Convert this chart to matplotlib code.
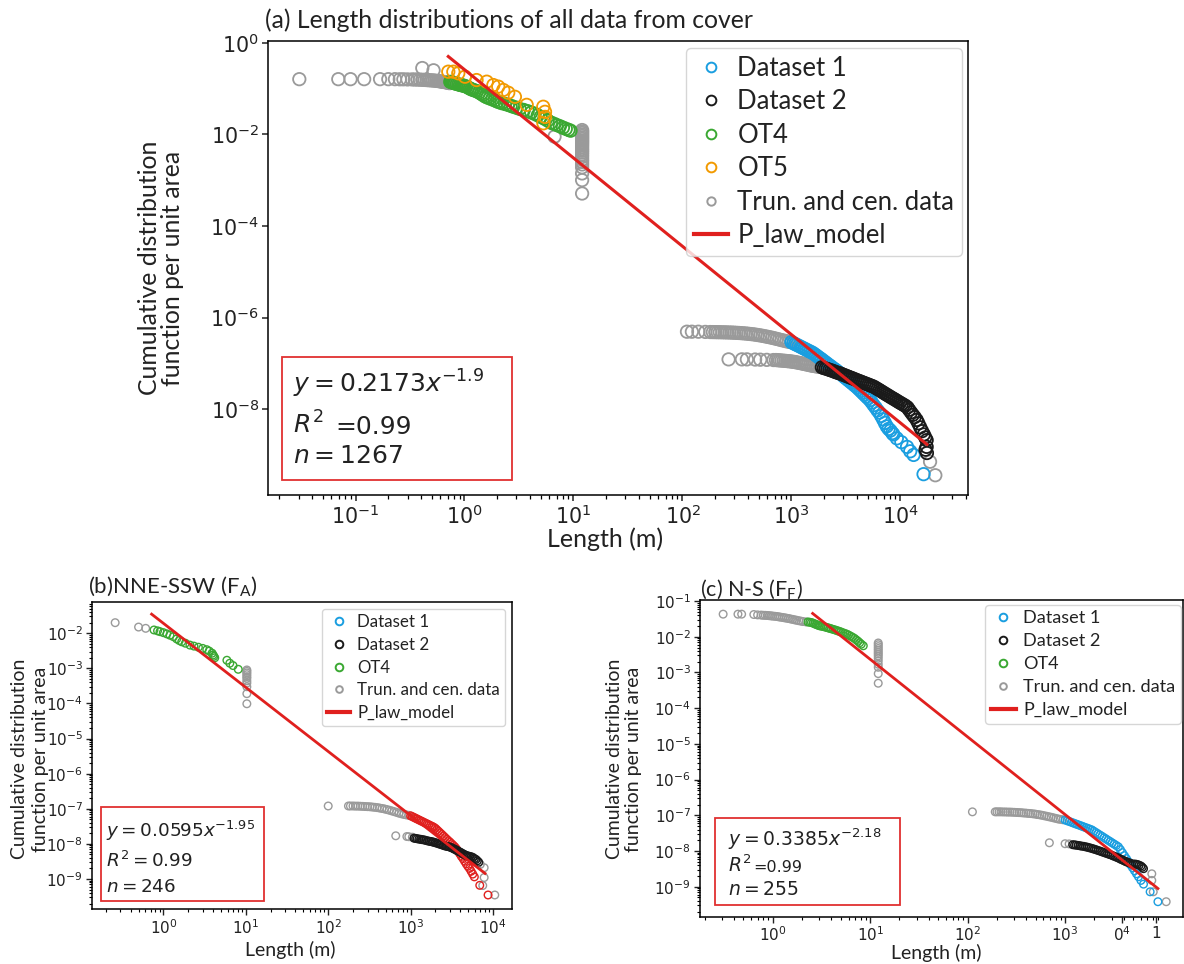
import matplotlib
matplotlib.use('Agg')
import matplotlib.pyplot as plt
from matplotlib.lines import Line2D
from matplotlib.patches import Rectangle
from matplotlib.ticker import FixedLocator, NullLocator, LogLocator, FixedFormatter, NullFormatter

# ======================= DATA (length m, CCDF per unit area) =======================
legend_labels_a = ['Dataset 1', 'Dataset 2', 'OT4', 'OT5', 'Trun. and cen. data', 'P_law_model']
legend_labels_bc = ['Dataset 1', 'Dataset 2', 'OT4', 'Trun. and cen. data', 'P_law_model']

# ---- panel (a) ----
a_trunc_small = [(0.0305, 0.16), (0.0695, 0.16), (0.090, 0.16), (0.12, 0.16), (0.168, 0.16), (0.20, 0.16),
                 (0.23, 0.16), (0.255, 0.159), (0.275, 0.159), (0.30, 0.158), (0.33, 0.158), (0.35, 0.157),
                 (0.37, 0.157), (0.39, 0.156), (0.41, 0.155), (0.43, 0.154), (0.45, 0.153), (0.47, 0.152),
                 (0.49, 0.151), (0.51, 0.15), (0.53, 0.149), (0.55, 0.147), (0.57, 0.146), (0.59, 0.144),
                 (0.61, 0.142), (0.63, 0.14), (0.65, 0.139), (0.67, 0.137), (0.69, 0.135), (0.71, 0.133),
                 (0.73, 0.131), (0.41, 0.28), (0.52, 0.25), (6.7, 0.0089)]
a_trunc_step = [(12, 0.0124), (12, 0.0115), (12, 0.0107), (12, 0.0099), (12, 0.0092), (12, 0.0085),
                (12, 0.0079), (12, 0.0073), (12, 0.0068), (12, 0.0063), (12, 0.0058), (12, 0.0053),
                (12, 0.0048), (12, 0.0044), (12, 0.004), (12, 0.0036), (12, 0.0032), (12, 0.0028),
                (12, 0.0025), (12, 0.0022), (12, 0.0019), (12, 0.0014), (12, 0.001), (12, 0.00051)]
a_trunc_upper = [(110, 4.9e-7), (122, 4.9e-7), (140, 4.9e-7), (162, 4.85e-7), (180, 4.82e-7), (190, 4.81e-7),
                 (200, 4.8e-7), (210, 4.79e-7), (220, 4.78e-7), (232, 4.76e-7), (244, 4.75e-7),
                 (256, 4.73e-7), (270, 4.71e-7), (284, 4.69e-7), (298, 4.66e-7), (313, 4.63e-7),
                 (329, 4.6e-7), (346, 4.56e-7), (364, 4.52e-7), (383, 4.47e-7), (402, 4.42e-7),
                 (423, 4.36e-7), (445, 4.3e-7), (468, 4.23e-7), (492, 4.15e-7), (517, 4.07e-7),
                 (544, 3.98e-7), (572, 3.89e-7), (601, 3.8e-7), (632, 3.71e-7), (665, 3.61e-7),
                 (699, 3.51e-7), (735, 3.41e-7), (773, 3.31e-7), (813, 3.21e-7), (855, 3.12e-7),
                 (899, 3.03e-7), (945, 2.96e-7), (990, 2.92e-7)]
a_trunc_lower = [(265, 1.22e-7), (351, 1.22e-7), (390, 1.22e-7), (464, 1.21e-7), (517, 1.2e-7),
                 (594, 1.19e-7), (684, 1.18e-7), (720, 1.18e-7), (750, 1.17e-7), (780, 1.16e-7),
                 (810, 1.15e-7), (845, 1.14e-7), (880, 1.13e-7), (915, 1.12e-7), (950, 1.11e-7),
                 (990, 1.1e-7), (1030, 1.08e-7), (1070, 1.07e-7), (1110, 1.05e-7), (1160, 1.03e-7),
                 (1210, 1.01e-7), (1260, 9.9e-8), (1310, 9.7e-8), (1360, 9.5e-8), (1420, 9.3e-8),
                 (1480, 9.1e-8), (1540, 8.9e-8), (1600, 8.8e-8), (1670, 8.6e-8), (1740, 8.5e-8),
                 (1810, 8.4e-8), (1880, 8.3e-8), (18700, 7.1e-10), (20900, 3.6e-10)]
a_ds1 = [(1000, 2.9e-7), (1040, 2.76e-7), (1080, 2.64e-7), (1120, 2.53e-7), (1170, 2.4e-7), (1220, 2.28e-7),
         (1270, 2.17e-7), (1320, 2.07e-7), (1370, 1.98e-7), (1430, 1.88e-7), (1490, 1.79e-7), (1550, 1.71e-7),
         (1610, 1.61e-7), (1680, 1.5e-7), (1750, 1.39e-7), (1820, 1.3e-7), (1890, 1.22e-7), (1970, 1.13e-7),
         (2050, 1.05e-7), (2130, 9.8e-8), (2220, 9.1e-8), (2310, 8.5e-8), (2400, 7.9e-8), (2500, 7.4e-8),
         (2600, 6.9e-8), (2700, 6.4e-8), (2810, 5.97e-8), (2920, 5.56e-8), (3040, 5.12e-8), (3160, 4.74e-8),
         (3290, 4.39e-8), (3420, 4.07e-8), (3560, 3.77e-8), (3700, 3.49e-8), (3850, 3.23e-8), (4000, 2.99e-8),
         (4160, 2.73e-8), (4330, 2.49e-8), (4500, 2.27e-8), (4680, 2.07e-8), (4870, 1.88e-8), (5060, 1.73e-8),
         (5260, 1.57e-8), (5470, 1.39e-8), (5690, 1.22e-8), (5920, 1.08e-8), (6160, 9.4e-9), (6400, 8.4e-9),
         (6660, 7.1e-9), (6930, 6.0e-9), (7200, 5.0e-9), (7490, 4.2e-9), (7790, 3.7e-9), (8100, 3.4e-9),
         (8420, 3.0e-9), (8630, 2.8e-9), (9270, 2.3e-9), (10200, 1.9e-9), (11500, 1.5e-9), (12300, 1.2e-9),
         (13200, 1.0e-9), (16300, 3.8e-10)]
a_ds2 = [(1900, 8.2e-8), (1980, 7.9e-8), (2060, 7.7e-8), (2140, 7.5e-8), (2230, 7.2e-8), (2320, 7.0e-8),
         (2410, 6.8e-8), (2510, 6.5e-8), (2610, 6.3e-8), (2710, 6.15e-8), (2820, 5.96e-8), (2930, 5.74e-8),
         (3050, 5.53e-8), (3170, 5.33e-8), (3300, 5.13e-8), (3430, 4.95e-8), (3570, 4.77e-8), (3710, 4.6e-8),
         (3860, 4.42e-8), (4010, 4.27e-8), (4170, 4.11e-8), (4340, 3.97e-8), (4510, 3.83e-8), (4690, 3.69e-8),
         (4880, 3.56e-8), (5080, 3.43e-8), (5280, 3.31e-8), (5490, 3.19e-8), (5710, 3.07e-8), (5940, 2.9e-8),
         (6180, 2.74e-8), (6430, 2.59e-8), (6690, 2.44e-8), (6960, 2.3e-8), (7240, 2.17e-8), (7530, 2.05e-8),
         (7830, 1.94e-8), (8140, 1.83e-8), (8470, 1.73e-8), (8810, 1.64e-8), (9160, 1.55e-8), (9530, 1.46e-8),
         (9910, 1.38e-8), (10300, 1.31e-8), (10700, 1.24e-8), (11100, 1.18e-8), (11600, 1.09e-8),
         (12000, 9.7e-9), (12500, 8.5e-9), (13000, 7.5e-9), (13500, 6.7e-9), (14100, 5.8e-9), (14600, 4.9e-9),
         (15200, 4.0e-9), (15800, 3.3e-9), (16400, 2.8e-9), (16900, 2.4e-9), (17400, 2.1e-9), (17000, 1.3e-9),
         (17400, 1.5e-9), (17500, 1.1e-9)]
a_ot4 = [(0.74, 0.14), (0.76, 0.138), (0.78, 0.135), (0.80, 0.132), (0.82, 0.129), (0.85, 0.126), (0.88, 0.123),
         (0.91, 0.12), (0.94, 0.118), (0.97, 0.116), (1.0, 0.114), (1.04, 0.11), (1.08, 0.105), (1.12, 0.1),
         (1.16, 0.096), (1.2, 0.093), (1.25, 0.09), (1.3, 0.087), (1.36, 0.082), (1.42, 0.077), (1.48, 0.072),
         (1.55, 0.067), (1.62, 0.064), (1.7, 0.061), (1.8, 0.058), (1.9, 0.055), (2.0, 0.052), (2.1, 0.05),
         (2.2, 0.048), (2.35, 0.046), (2.5, 0.044), (2.65, 0.042), (2.8, 0.04), (3.0, 0.038), (3.2, 0.036),
         (3.5, 0.034), (3.8, 0.032), (4.1, 0.03), (4.4, 0.028), (4.7, 0.026), (5.0, 0.024), (5.4, 0.022),
         (5.8, 0.02), (6.2, 0.018), (6.6, 0.017), (7.0, 0.016), (7.5, 0.015), (8.0, 0.014), (8.5, 0.0132),
         (9.0, 0.0125), (9.4, 0.012)]
a_ot5 = [(0.71, 0.233), (0.79, 0.233), (0.877, 0.215), (1.01, 0.181), (1.29, 0.153), (1.6, 0.141), (1.84, 0.119),
         (2.04, 0.11), (2.27, 0.093), (2.52, 0.081), (2.9, 0.066), (3.72, 0.044), (5.28, 0.040), (5.48, 0.031),
         (5.48, 0.024), (5.3, 0.0174)]
a_model = [(0.71, 0.5), (17500, 1.7e-9)]
a_eq = ['$y = 0.2173x^{-1.9}$', '$R^2$', '=0.99', '$n = 1267$']

# ---- panel (b) ----
b_trunc = [(0.26, 0.020), (0.50, 0.015), (0.61, 0.0138),
           (10.3, 9.0e-4), (10.3, 8.2e-4), (10.3, 7.4e-4), (10.3, 6.6e-4), (10.3, 5.8e-4), (10.3, 5.2e-4),
           (10.3, 4.4e-4), (10.3, 3.8e-4), (10.3, 3.0e-4), (10.3, 1.9e-4), (10.3, 9.8e-5),
           (100, 1.2e-7), (176, 1.2e-7), (186, 1.2e-7), (200, 1.2e-7), (214, 1.19e-7), (229, 1.19e-7),
           (245, 1.18e-7), (262, 1.17e-7), (280, 1.16e-7), (300, 1.15e-7), (321, 1.14e-7), (343, 1.12e-7),
           (367, 1.1e-7), (393, 1.08e-7), (420, 1.05e-7), (450, 1.02e-7), (481, 9.9e-8), (515, 9.5e-8),
           (551, 9.1e-8), (590, 8.7e-8), (631, 8.3e-8), (675, 7.9e-8), (722, 7.5e-8), (773, 7.2e-8),
           (827, 6.9e-8), (885, 6.7e-8), (950, 6.5e-8),
           (660, 1.7e-8), (900, 1.62e-8), (950, 1.6e-8), (1050, 1.55e-8),
           (7000, 2.6e-9), (7800, 2.1e-9), (7800, 1.1e-9), (7500, 6.5e-10), (10500, 3.5e-10)]
b_ds1 = [(1000, 6.3e-8), (1050, 5.97e-8), (1100, 5.65e-8), (1150, 5.36e-8), (1200, 5.1e-8), (1260, 4.83e-8),
         (1320, 4.57e-8), (1380, 4.35e-8), (1450, 4.1e-8), (1520, 3.88e-8), (1590, 3.69e-8), (1660, 3.51e-8),
         (1740, 3.32e-8), (1820, 3.15e-8), (1900, 3.0e-8), (1990, 2.79e-8), (2080, 2.53e-8), (2180, 2.28e-8),
         (2280, 2.06e-8), (2390, 1.86e-8), (2500, 1.68e-8), (2620, 1.51e-8), (2740, 1.36e-8), (2870, 1.23e-8),
         (3000, 1.12e-8), (3140, 1.01e-8), (3290, 9.1e-9), (3440, 8.2e-9), (3600, 7.2e-9), (3770, 6.1e-9),
         (3950, 5.2e-9), (4130, 4.4e-9), (4320, 3.8e-9), (4520, 3.2e-9), (4730, 2.7e-9), (4950, 2.3e-9),
         (5180, 2.0e-9), (5420, 1.66e-9), (5670, 1.38e-9), (5930, 1.15e-9), (6900, 6.6e-10), (8700, 3.5e-10)]
b_ds2 = [(1100, 1.45e-8), (1150, 1.43e-8), (1200, 1.4e-8), (1260, 1.37e-8), (1320, 1.35e-8), (1380, 1.32e-8),
         (1450, 1.3e-8), (1520, 1.26e-8), (1600, 1.22e-8), (1680, 1.19e-8), (1750, 1.17e-8), (1830, 1.14e-8),
         (1900, 1.12e-8), (1990, 1.08e-8), (2080, 1.05e-8), (2180, 1.01e-8), (2270, 9.8e-9), (2370, 9.5e-9),
         (2480, 9.1e-9), (2590, 8.8e-9), (2700, 8.6e-9), (2820, 8.4e-9), (2950, 8.2e-9), (3080, 7.9e-9),
         (3200, 7.6e-9), (3340, 7.2e-9), (3480, 6.9e-9), (3630, 6.5e-9), (3780, 6.2e-9), (3940, 5.9e-9),
         (4100, 5.6e-9), (4270, 5.3e-9), (4450, 5.0e-9), (4620, 4.8e-9), (4800, 4.6e-9), (5000, 4.5e-9),
         (5200, 4.4e-9), (5450, 4.3e-9), (5700, 4.1e-9), (5950, 3.8e-9), (6200, 3.6e-9), (6450, 3.3e-9),
         (6700, 3.0e-9)]
b_ot4 = [(0.77, 0.0124), (0.85, 0.0117), (0.91, 0.0111), (1.0, 0.0104), (1.1, 0.0096), (1.2, 0.0088),
         (1.32, 0.008), (1.45, 0.0069), (1.56, 0.0062), (1.67, 0.0057), (1.85, 0.0052), (2.1, 0.0046),
         (2.35, 0.0043), (2.66, 0.004), (3.0, 0.0037), (3.36, 0.0034), (3.6, 0.0031), (3.9, 0.0027),
         (4.0, 0.0024), (4.1, 0.0022), (4.2, 0.0020), (5.9, 0.0017), (6.4, 0.0014), (7.0, 0.0012), (8.1, 9.4e-4)]
b_model = [(0.72, 0.035), (8000, 1.44e-9)]
b_eq = ['$y = 0.0595x^{-1.95}$', '$R^2 = 0.99$', '$n = 246$']

# ---- panel (c) ----
c_trunc = [(0.31, 0.043), (0.44, 0.043), (0.48, 0.043), (0.64, 0.042), (0.7, 0.041), (0.76, 0.0405),
           (0.80, 0.040), (0.84, 0.0398), (0.88, 0.0395), (0.92, 0.039), (0.96, 0.0385), (1.0, 0.038),
           (1.05, 0.0375), (1.1, 0.037), (1.15, 0.0362), (1.2, 0.0355), (1.26, 0.0348), (1.32, 0.034),
           (1.38, 0.0333), (1.45, 0.0325), (1.52, 0.0316), (1.6, 0.0307), (1.68, 0.0298), (1.76, 0.029),
           (1.85, 0.0282), (1.95, 0.0274), (2.05, 0.0267), (2.2, 0.026),
           (12.1, 0.0067), (12.1, 0.006), (12.1, 0.0053), (12.1, 0.0047), (12.1, 0.0042), (12.1, 0.0037),
           (12.1, 0.0033), (12.1, 0.0029), (12.1, 0.0025), (12.1, 0.0021), (12.1, 0.0017), (12.1, 0.0014),
           (12.1, 0.00093), (12.1, 0.0005),
           (112, 1.25e-7), (192, 1.25e-7), (200, 1.25e-7), (210, 1.25e-7), (220, 1.25e-7), (232, 1.24e-7),
           (245, 1.24e-7), (258, 1.23e-7), (272, 1.23e-7), (287, 1.22e-7), (303, 1.21e-7), (320, 1.2e-7),
           (338, 1.19e-7), (357, 1.18e-7), (377, 1.16e-7), (398, 1.15e-7), (420, 1.13e-7), (443, 1.12e-7),
           (468, 1.1e-7), (494, 1.08e-7), (521, 1.05e-7), (550, 1.03e-7), (580, 1.0e-7), (612, 9.7e-8),
           (646, 9.4e-8), (682, 9.1e-8), (720, 8.8e-8), (760, 8.5e-8), (802, 8.2e-8), (846, 7.9e-8),
           (893, 7.7e-8), (950, 7.5e-8),
           (690, 1.7e-8), (1000, 1.6e-8), (1100, 1.58e-8),
           (7760, 2.3e-9), (7760, 1.5e-9), (8030, 7.2e-10), (10900, 3.8e-10)]
c_ds1 = [(1000, 7.4e-8), (1050, 7.05e-8), (1100, 6.73e-8), (1160, 6.37e-8), (1220, 6.05e-8), (1280, 5.77e-8),
         (1340, 5.51e-8), (1410, 5.23e-8), (1480, 4.98e-8), (1550, 4.75e-8), (1630, 4.52e-8), (1710, 4.3e-8),
         (1790, 4.1e-8), (1880, 3.9e-8), (1970, 3.6e-8), (2070, 3.3e-8), (2170, 3.04e-8), (2280, 2.79e-8),
         (2390, 2.58e-8), (2510, 2.36e-8), (2630, 2.18e-8), (2760, 2.0e-8), (2900, 1.84e-8), (3040, 1.69e-8),
         (3190, 1.56e-8), (3350, 1.43e-8), (3520, 1.31e-8), (3690, 1.1e-8), (3870, 9.0e-9), (4060, 7.4e-9),
         (4260, 6.1e-9), (4470, 5.0e-9), (4690, 4.1e-9), (4920, 3.4e-9), (5160, 2.8e-9), (5410, 2.3e-9),
         (5670, 1.9e-9), (6000, 1.5e-9), (6380, 1.18e-9), (7460, 7.2e-10), (8970, 3.8e-10)]
c_ds2 = [(1200, 1.5e-8), (1250, 1.48e-8), (1300, 1.46e-8), (1360, 1.43e-8), (1420, 1.4e-8), (1480, 1.37e-8),
         (1550, 1.35e-8), (1620, 1.31e-8), (1690, 1.28e-8), (1760, 1.24e-8), (1840, 1.2e-8), (1920, 1.16e-8),
         (2000, 1.12e-8), (2090, 1.08e-8), (2190, 1.03e-8), (2290, 9.9e-9), (2390, 9.5e-9), (2500, 9.1e-9),
         (2610, 8.7e-9), (2730, 8.4e-9), (2850, 8.0e-9), (2980, 7.7e-9), (3110, 7.3e-9), (3250, 7.0e-9),
         (3400, 6.6e-9), (3550, 6.3e-9), (3710, 5.9e-9), (3880, 5.6e-9), (4050, 5.3e-9), (4230, 5.0e-9),
         (4420, 4.8e-9), (4610, 4.6e-9), (4800, 4.4e-9), (5040, 4.3e-9), (5270, 4.3e-9), (5500, 4.2e-9),
         (5750, 4.0e-9), (6000, 3.8e-9), (6200, 3.5e-9), (6380, 3.2e-9)]
c_ot4 = [(2.3, 0.026), (2.4, 0.0255), (2.5, 0.025), (2.6, 0.024), (2.7, 0.023), (2.8, 0.022), (2.9, 0.0212),
         (3.0, 0.0205), (3.1, 0.02), (3.25, 0.0195), (3.4, 0.019), (3.55, 0.0183), (3.7, 0.0178), (3.85, 0.0172),
         (4.0, 0.0167), (4.2, 0.016), (4.4, 0.0154), (4.6, 0.0148), (4.8, 0.0142), (5.0, 0.0137), (5.25, 0.013),
         (5.5, 0.0124), (5.75, 0.0118), (6.0, 0.0112), (6.3, 0.0104), (6.6, 0.0097), (6.9, 0.009),
         (7.2, 0.0082), (7.5, 0.0075), (7.8, 0.0068), (8.1, 0.0062), (8.5, 0.0056)]
c_model = [(2.57, 0.045), (8970, 8.9e-10)]
c_eq = ['$y = 0.3385x^{-2.18}$', '$R^2$', '=0.99', '$n = 255$']
c_xtick_pos = [1, 10, 100, 1000, 3800, 8500]
c_xtick_lab = ['$\\mathdefault{10^{0}}$', '$\\mathdefault{10^{1}}$', '$\\mathdefault{10^{2}}$',
               '$\\mathdefault{10^{3}}$', '$\\mathdefault{0^{4}}$', '1']

# ======================= STYLE =======================
W, H = 1184, 964
SANS = ['Lato', 'DejaVu Sans']
C_BLUE = '#1a9ee0'
C_BLACK = '#1a1a1a'
C_GREEN = '#3aa832'
C_ORANGE = '#f29a00'
C_GREY = '#9a9a9a'
C_RED = '#e0201e'
C_TXT = '#222222'

plt.rcParams['axes.linewidth'] = 1.1
plt.rcParams['text.color'] = C_TXT

fig = plt.figure(figsize=(W / 100, H / 100), dpi=100)


def xs(pts):
    return [p[0] for p in pts]


def ys(pts):
    return [p[1] for p in pts]


def make_axes(box, xl, yl):
    l, t, r, b = box
    ax = fig.add_axes([l / W, 1 - b / H, (r - l) / W, (b - t) / H])
    ax.set_xscale('log')
    ax.set_yscale('log')
    ax.set_xlim(10 ** xl[0], 10 ** xl[1])
    ax.set_ylim(10 ** yl[0], 10 ** yl[1])
    return ax


def fr(box, x, y):
    l, t, r, b = box
    return (x - l) / (r - l), (b - y) / (b - t)


def scat(ax, pts, c, s, lw, z):
    ax.scatter(xs(pts), ys(pts), s=s, facecolors='none', edgecolors=c, linewidths=lw, zorder=z)


def eq_box(ax, box, rect, lines):
    x0, y0 = fr(box, rect[0], rect[3])
    x1, y1 = fr(box, rect[2], rect[1])
    ax.add_patch(Rectangle((x0, y0), x1 - x0, y1 - y0, transform=ax.transAxes, fill=True,
                           facecolor='white', edgecolor='#e03030', lw=1.3, zorder=5, clip_on=False))
    for (txt, px, py, sz) in lines:
        fx, fy = fr(box, px, py)
        ax.text(fx, fy, txt, transform=ax.transAxes, fontsize=sz, va='baseline', ha='left',
                family='DejaVu Sans', color=C_TXT, zorder=6)


def handles(colors, ms, msg):
    hs = []
    for c in colors:
        m = msg if c == C_GREY else ms
        hs.append(Line2D([], [], ls='none', marker='o', mfc='none', mec=c, ms=m, mew=1.4))
    hs.append(Line2D([], [], color=C_RED, lw=3))
    return hs


def minor_log(axis):
    axis.set_minor_locator(LogLocator(base=10, subs=range(2, 10), numticks=30))
    axis.set_minor_formatter(NullFormatter())


# ======================= PANEL (a) =======================
box_a = (268, 40.7, 968, 495)
axa = make_axes(box_a, (-1.803, 4.62), (-9.875, 0.044))
sa, lwa = 80, 1.3
for pts in (a_trunc_small, a_trunc_step, a_trunc_upper, a_trunc_lower):
    scat(axa, pts, C_GREY, sa, lwa, 2)
scat(axa, a_ds1, C_BLUE, sa, lwa, 3)
scat(axa, a_ds2, C_BLACK, sa, lwa, 4)
scat(axa, a_ot4, C_GREEN, sa, lwa, 3)
scat(axa, a_ot5, C_ORANGE, sa, lwa, 4)
axa.plot(xs(a_model), ys(a_model), color=C_RED, lw=2.2, zorder=7)
axa.yaxis.set_major_locator(FixedLocator([1e0, 1e-2, 1e-4, 1e-6, 1e-8]))
axa.yaxis.set_minor_locator(NullLocator())
axa.xaxis.set_major_locator(FixedLocator([1e-1, 1e0, 1e1, 1e2, 1e3, 1e4]))
minor_log(axa.xaxis)
axa.tick_params(which='major', labelsize=14.8, length=4.5, width=1.1, pad=2, colors=C_TXT)
axa.tick_params(which='minor', length=3, width=0.9)
leg = axa.legend(handles([C_BLUE, C_BLACK, C_GREEN, C_ORANGE, C_GREY], 7, 6), legend_labels_a,
                 loc='upper right', bbox_to_anchor=fr(box_a, 962, 48), prop={'family': SANS, 'size': 18.5},
                 labelspacing=0.33, handlelength=1.35, handletextpad=0.35, borderpad=0.3, borderaxespad=0,
                 edgecolor='#cccccc')
leg.set_zorder(8)
eq_box(axa, box_a, (282, 357, 512, 480),
       [(a_eq[0], 293, 393, 18), (a_eq[1], 293, 434, 18), (a_eq[2], 335, 434, 18), (a_eq[3], 293, 463, 18)])
fig.text(265 / W, 1 - 28 / H, '(a) Length distributions of all data from cover', family=SANS, fontsize=17.8,
         va='baseline', ha='left')
fig.text(161 / W, 1 - 268 / H, 'Cumulative distribution\nfunction per unit area', family=SANS,
         fontsize=17.8, rotation=90, ha='center', va='center', linespacing=1.05, multialignment='center')
fig.text(605 / W, 1 - 539 / H, 'Length (m)', family=SANS, fontsize=18, ha='center', va='center')

# ======================= PANEL (b) =======================
box_b = (92, 602, 512, 909)
axb = make_axes(box_b, (-0.866, 4.23), (-9.855, -1.11))
sb, lwb = 30, 1.0
scat(axb, b_trunc, C_GREY, sb, lwb, 2)
scat(axb, b_ds1, C_RED, sb, lwb, 3)
scat(axb, b_ds2, C_BLACK, sb, lwb, 4)
scat(axb, b_ot4, C_GREEN, sb, lwb, 3)
axb.plot(xs(b_model), ys(b_model), color=C_RED, lw=2.0, zorder=7)
axb.yaxis.set_major_locator(FixedLocator([10.0 ** k for k in range(-9, -1)]))
minor_log(axb.yaxis)
axb.xaxis.set_major_locator(FixedLocator([1e0, 1e1, 1e2, 1e3, 1e4]))
minor_log(axb.xaxis)
axb.tick_params(which='major', labelsize=11, length=4, width=1.0, pad=2.5, colors=C_TXT)
axb.tick_params(which='minor', length=2.5, width=0.8)
leg = axb.legend(handles([C_BLUE, C_BLACK, C_GREEN, C_GREY], 5.5, 4.8), legend_labels_bc,
                 loc='upper right', bbox_to_anchor=fr(box_b, 505, 609), prop={'family': SANS, 'size': 12.2},
                 labelspacing=0.4, handlelength=1.4, handletextpad=0.4, borderpad=0.3, borderaxespad=0,
                 edgecolor='#cccccc')
leg.set_zorder(8)
eq_box(axb, box_b, (101, 807, 264, 901),
       [(b_eq[0], 106, 837, 13.2), (b_eq[1], 106, 867, 13.2), (b_eq[2], 106, 892, 13.2)])
fig.text(88 / W, 1 - 593 / H, '(b)NNE-SSW (F$_\\mathregular{A}$)', family=SANS, fontsize=16, va='baseline',
         ha='left')
fig.text(30 / W, 1 - 759 / H, 'Cumulative distribution\nfunction per unit area', family=SANS,
         fontsize=14, rotation=90, ha='center', va='center', linespacing=1.25, multialignment='center')
fig.text(290 / W, 1 - 950 / H, 'Length (m)', family=SANS, fontsize=14, ha='center', va='center')

# ======================= PANEL (c) =======================
box_c = (700, 600, 1183, 916.7)
axc = make_axes(box_c, (-0.746, 4.21), (-9.84, -0.97))
scat(axc, c_trunc, C_GREY, sb, lwb, 2)
scat(axc, c_ds1, C_BLUE, sb, lwb, 3)
scat(axc, c_ds2, C_BLACK, sb, lwb, 4)
scat(axc, c_ot4, C_GREEN, sb, lwb, 3)
axc.plot(xs(c_model), ys(c_model), color=C_RED, lw=2.0, zorder=7)
axc.yaxis.set_major_locator(FixedLocator([10.0 ** k for k in range(-9, 0)]))
minor_log(axc.yaxis)
axc.xaxis.set_major_locator(FixedLocator(c_xtick_pos))
axc.xaxis.set_major_formatter(FixedFormatter(c_xtick_lab))
minor_log(axc.xaxis)
axc.tick_params(which='major', labelsize=11, length=4, width=1.0, pad=2.5, colors=C_TXT)
axc.tick_params(which='minor', length=2.5, width=0.8)
leg = axc.legend(handles([C_BLUE, C_BLACK, C_GREEN, C_GREY], 5.5, 4.8), legend_labels_bc,
                 loc='upper right', bbox_to_anchor=fr(box_c, 1181, 605), prop={'family': SANS, 'size': 13.1},
                 labelspacing=0.38, handlelength=1.4, handletextpad=0.4, borderpad=0.3, borderaxespad=0,
                 edgecolor='#cccccc')
leg.set_zorder(8)
eq_box(axc, box_c, (715, 818, 900, 905),
       [(c_eq[0], 728, 846, 13.5), (c_eq[1], 728, 872, 13.5), (c_eq[2], 753, 872, 11.5), (c_eq[3], 728, 895, 13.5)])
fig.text(700 / W, 1 - 596 / H, '(c) N-S (F$_\\mathregular{F}$)', family=SANS, fontsize=15.5, va='baseline',
         ha='left')
fig.text(624 / W, 1 - 759 / H, 'Cumulative distribution\nfunction per unit area', family=SANS,
         fontsize=14, rotation=90, ha='center', va='center', linespacing=1.1, multialignment='center')
fig.text(936 / W, 1 - 953 / H, 'Length (m)', family=SANS, fontsize=14, ha='center', va='center')

fig.savefig('out.png', dpi=100)
